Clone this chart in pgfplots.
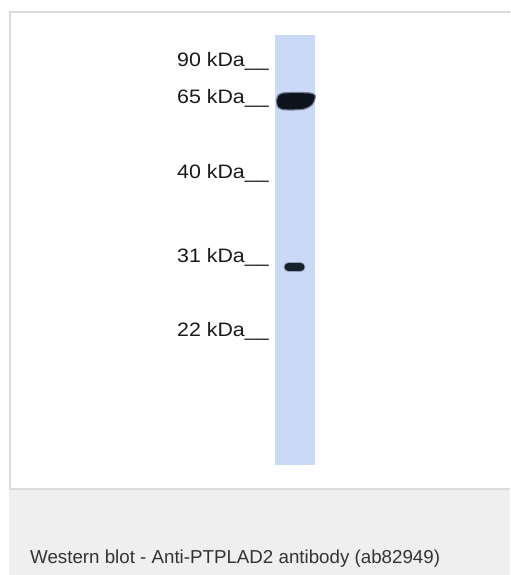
\documentclass[border=0pt]{standalone}
\usepackage{pgfplots}
\pgfplotsset{compat=1.18}
\usepackage{fontspec}
\setmainfont{Liberation Sans}
% the marker labels in the blot are drawn a bit wider than normal Arial
\newfontfamily\blotfont[FakeStretch=1.1]{Liberation Sans}

\definecolor{lane}{HTML}{C9D9F6}
\definecolor{band}{HTML}{0D131D}
\definecolor{bandb}{HTML}{16212D}
\definecolor{frame}{HTML}{DCDCDC}
\definecolor{foot}{HTML}{EEEFEE}
\definecolor{ink}{HTML}{1A1A1A}
\definecolor{capink}{HTML}{333333}

\begin{document}
\begin{tikzpicture}[
  mk/.style={anchor=base west, inner sep=0pt, text=ink,
    font=\blotfont\fontsize{19.5}{21}\selectfont},
]
\begin{axis}[
  width=510bp, height=575bp, scale only axis,
  xmin=0, xmax=510, ymin=0, ymax=575, y dir=reverse,
  hide axis, clip=false,
]
% panel, footer and frame
\addplot[fill=white, draw=none] coordinates {(0,0) (510,0) (510,575) (0,575)};
\addplot[fill=foot, draw=none] coordinates {(9,489) (510,489) (510,575) (9,575)};
\addplot[frame, line width=2bp] coordinates {(10,489) (10,12) (510,12)};
\addplot[frame, line width=2bp] coordinates {(9,489) (510,489)};

% lane
\addplot[fill=lane, draw=none] coordinates {(275,35) (315,35) (315,465) (275,465)};

% 65 kDa band
\addplot[draw=band, line width=2.5bp, opacity=0.45, smooth] coordinates {
  (277,101) (278.5,96) (283,93.6) (292,93.2) (302,93.2) (310,93.6)
  (314.5,95.5) (314,100) (311,105) (304,108.5) (292,109.3) (282,108.8)
  (278,106) (277,101)};
\addplot[fill=band, draw=none, smooth] coordinates {
  (277,101) (278.5,96) (283,93.6) (292,93.2) (302,93.2) (310,93.6)
  (314.5,95.5) (314,100) (311,105) (304,108.5) (292,109.3) (282,108.8)
  (278,106) (277,101)};

% ~29 kDa band
\addplot[bandb, line width=10bp, line cap=round, opacity=0.3] coordinates {(288.5,267) (300.5,267)};
\addplot[bandb, line width=8bp, line cap=round] coordinates {(288.5,267) (300.5,267)};

% marker labels
\node[mk] at (axis cs:177,67)  {90 kDa\_\_};
\node[mk] at (axis cs:177,103) {65 kDa\_\_};
\node[mk] at (axis cs:177,178) {40 kDa\_\_};
\node[mk] at (axis cs:177,262) {31 kDa\_\_};
\node[mk] at (axis cs:177,336) {22 kDa\_\_};

% caption
\node[anchor=base west, inner sep=0pt, text=capink,
  font=\fontsize{18.8}{22}\selectfont] at (axis cs:30,563)
  {Western blot - Anti-PTPLAD2 antibody (ab82949)};
\end{axis}
\end{tikzpicture}
\end{document}
